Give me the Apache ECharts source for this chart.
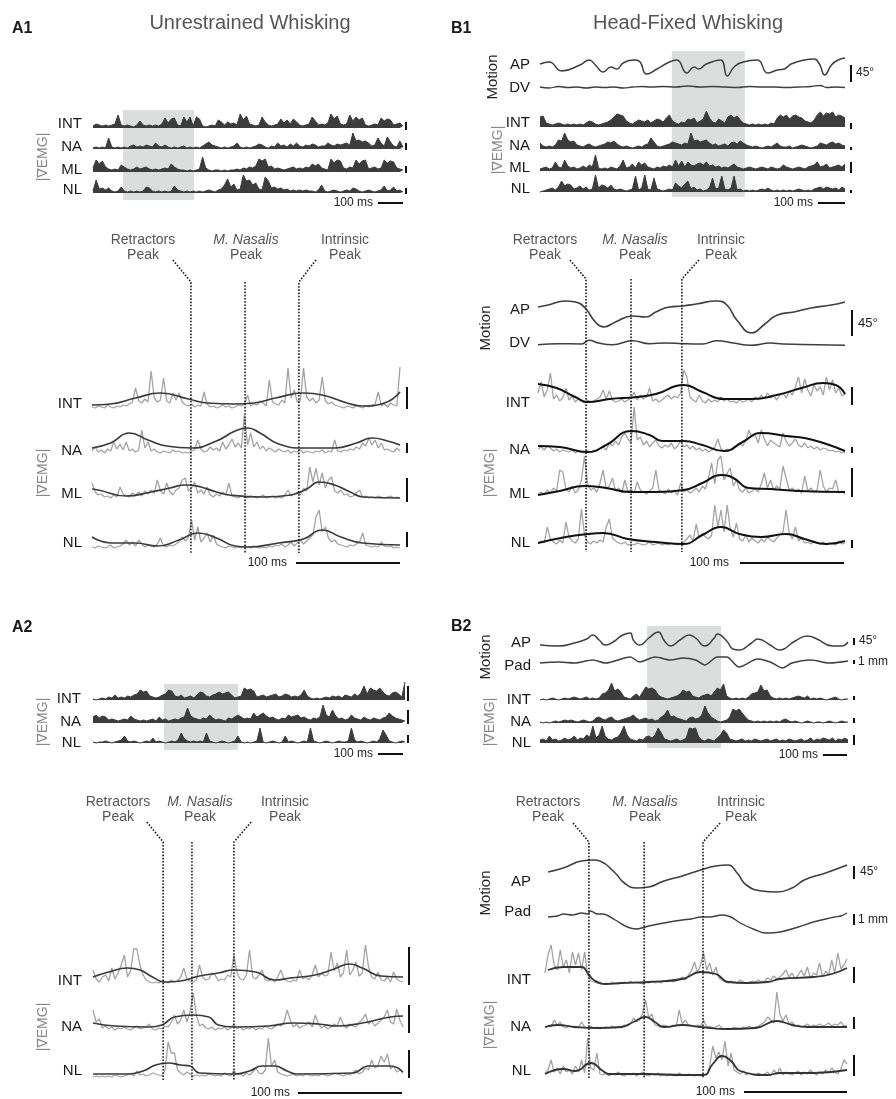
<!DOCTYPE html>
<html><head><meta charset="utf-8">
<script src="https://cdn.jsdelivr.net/npm/echarts@6/dist/echarts.min.js"></script>
<style>html,body{margin:0;padding:0;background:#fff}#c{width:896px;height:1099px}</style>
</head><body><div id="c"></div><script>
// ---------------- DATA (amplitudes, arbitrary units) ----------------
const emg4 = ["INT","NA","ML","NL"];
const emg3 = ["INT","NA","NL"];
const peakNames = [["Retractors","Peak"],["M. Nasalis","Peak"],["Intrinsic","Peak"]];

// A1 overview
const a1ovINT=[2,4,3,2,3,2,3,4,13,3, 2,3,2,1,3,7,3,2,3,2, 3,2,4,10,5,9,10,3,2,11, 6,11,2,11,9,2,1,2,3,2, 8,6,3,6,4,5,3,14,8,12, 4,3,2,3,11,6,3,2,3,4, 9,5,8,4,9,6,3,2,3,4, 11,7,3,4,3,5,14,9,12,4, 3,4,13,7,11,8,10,3,2,3, 4,3,10,7,9,8,3,4,5,2];
const a1ovNA=[1,2,1,2,1,11,2,1,2,1, 2,1,3,4,2,3,2,4,3,2, 6,3,2,4,2,1,2,1,2,3, 1,2,1,2,1,3,5,7,4,3, 2,1,2,1,2,3,6,2,1,2, 1,2,3,5,4,2,1,3,2,6, 3,4,2,5,3,6,3,2,4,3, 5,4,2,3,3,6,4,3,5,4, 5,6,4,16,8,9,7,8,6,3, 4,11,6,3,12,7,3,2,8,2];
const a1ovML=[4,12,8,11,5,3,2,3,2,7, 5,3,2,3,5,3,4,5,3,2, 3,2,3,4,3,8,5,3,2,2, 1,2,1,2,3,15,4,2,1,2, 2,1,2,1,2,2,3,2,4,3, 5,4,6,13,11,13,5,6,3,4, 3,2,3,4,5,3,4,3,5,4, 8,6,8,4,3,2,13,9,12,11, 4,3,5,4,12,8,11,12,3,4, 5,3,4,12,9,11,10,4,3,2];
const a1ovNL=[2,13,4,5,3,5,2,1,2,6, 2,1,2,1,2,1,2,6,5,2, 1,2,1,2,1,2,7,3,2,1, 2,1,2,1,2,1,2,3,2,1, 3,4,8,14,6,9,3,4,18,12, 13,8,10,4,3,16,12,5,6,4, 5,3,4,2,3,2,3,2,3,2, 2,1,3,8,2,1,2,3,2,1, 2,3,2,5,4,2,1,2,3,2, 1,2,3,7,2,3,6,2,3,1];
const a1Shade=[9.6,32.3];

// A1 zoom
const a1zINTraw=[3,2,4,3,2,5,3,2,4,3, 5,4,6,8,22,9,7,11,8,39, 12,8,10,32,9,7,17,10,17,8, 5,4,6,3,5,4,18,6,3,4, 2,3,5,3,4,2,3,5,4,6, 15,4,6,5,9,7,4,30,8,6, 5,10,7,42,12,20,8,10,42,13, 9,12,7,10,33,9,6,8,5,4, 3,2,4,3,2,5,3,2,4,3, 5,6,18,4,6,3,7,5,4,43];
const a1zINTsm=[[0,5],[6,6],[14,12],[22,17],[31,11],[37,7],[46,6],[52,7],[59,12],[68,17],[74,15],[82,7],[87,4],[94,7],[99,18]];
const a1zNAraw=[4,8,3,5,2,6,4,13,6,11, 5,13,4,6,3,5,25,7,13,4, 6,3,2,4,3,2,5,3,4,2, 3,2,4,5,15,6,3,4,8,5, 7,4,13,6,10,16,8,12,7,40, 10,22,8,13,6,9,4,7,5,3, 6,4,3,5,2,4,3,5,2,4, 3,2,4,3,5,2,4,3,15,4, 3,5,4,6,5,8,6,12,9,17, 10,15,7,12,5,6,4,3,7,4];
const a1zNAsm=[[0,7],[6,12],[12,22],[18,15],[24,9],[32,7],[40,14],[46,24],[50,27],[54,22],[60,11],[68,7],[78,7],[85,12],[90,17],[95,14],[99,10]];
const a1zMLraw=[17,8,5,6,3,4,2,5,3,13, 6,4,3,7,5,8,4,9,6,10, 7,20,9,6,17,8,5,10,12,20, 22,9,12,18,7,10,6,13,5,3, 6,4,8,5,17,4,3,2,4,3, 2,4,3,2,3,5,2,3,4,2, 3,2,5,10,4,6,8,5,12,9, 33,18,32,15,27,12,20,23,9,7, 10,5,6,3,4,7,10,3,4,2, 3,2,4,3,2,3,4,2,3,2];
const a1zMLsm=[[0,11],[2,10],[11,4],[19,8],[25,12],[30,15],[35,13],[40,8],[44,5],[55,3],[64,5],[69,11],[73,18],[78,15],[83,8],[87,3],[99,2]];
const a1zNLraw=[3,2,4,3,2,3,5,2,3,4, 6,10,5,8,4,10,6,3,5,4, 3,6,12,4,3,5,4,6,8,13, 9,13,30,10,23,8,12,17,8,15, 6,4,3,2,4,3,2,3,2,4, 3,2,4,3,2,3,2,4,3,5, 4,6,3,5,8,4,7,10,6,9, 12,15,33,40,18,23,12,8,10,6, 5,4,3,5,4,6,8,17,5,4, 3,4,3,8,4,3,4,2,3,2];
const a1zNLsm=[[0,13],[6,7],[14,7],[21,4],[28,10],[34,17],[40,12],[46,4],[50,3],[60,7],[68,11],[74,20],[80,13],[87,7],[99,5]];
const a1Peaks=[31.8,49.2,66.5];
const a1PeakLabelAt=[26.0,49.2,72.0];

// B1 overview
const b1ovAP=[[0,13],[3,15],[7,6],[13,12],[16,17],[18,12],[20.5,5],[23,10],[25,8],[27,14],[31,17],[32.5,15],[34.6,3],[38,8],[42,15],[44.4,17],[47.7,4],[50,10],[51.5,8],[54,13],[58.6,17],[60.8,1],[63,10],[66,15],[70.6,17],[73.9,4],[77,7],[79.3,8],[81.5,13],[85.8,17],[89,18],[90.7,13],[92.4,2],[94.6,12],[96.7,17],[99,19]];
const b1ovDV=[[0,3],[3,2],[6,3.5],[9,2.5],[12,3],[15,2],[18,3],[21,2.5],[24,3],[27,2],[30,3],[33,3.5],[36,3],[40,3.5],[44,3],[48,4],[52,3],[56,3.5],[60,3],[64,2.5],[68,3.5],[72,3],[76,3],[80,2.5],[84,3],[88,3.5],[91,4.5],[93,2.5],[96,3],[99,2.5]];
const b1ovINT=[10,11,4,3,2,3,4,3,2,3, 2,3,2,3,2,4,6,5,3,2, 3,4,5,7,10,13,12,11,6,4, 3,5,7,6,5,7,4,6,8,7, 5,9,12,6,4,3,5,4,8,7, 9,4,6,8,16,9,5,4,8,6, 4,10,12,9,11,7,4,3,2,3, 2,3,2,3,2,4,3,9,12,10, 12,8,11,12,10,9,6,5,4,7, 12,15,11,14,13,15,10,12,11,9];
const b1ovNA=[6,3,2,3,2,4,9,8,16,9, 7,8,4,3,2,4,5,3,2,3, 4,5,7,6,8,5,3,2,3,2, 1,2,3,2,4,5,11,7,3,2, 3,4,5,7,6,5,4,6,5,16, 8,9,7,8,9,6,4,5,3,4, 5,3,6,7,5,8,6,4,3,2, 3,2,1,2,3,2,4,6,3,2, 2,3,1,2,3,4,3,2,1,2, 3,6,5,4,6,7,5,6,4,3];
const b1ovML=[2,3,4,2,3,9,4,3,11,5, 3,4,2,3,5,3,6,4,16,3, 2,3,2,4,3,2,5,11,3,4, 7,3,9,6,8,4,3,2,4,3, 5,4,6,4,11,5,10,4,9,6, 5,7,8,6,9,5,6,4,5,3, 4,3,5,7,4,3,2,3,4,3, 2,3,4,3,2,4,3,2,3,6, 4,3,2,3,4,3,2,4,5,6, 9,4,5,7,3,4,5,6,4,7];
const b1ovNL=[0,1,2,3,4,2,5,11,6,8, 7,3,4,6,3,5,2,3,17,4, 7,6,4,7,3,2,3,2,1,2, 3,16,2,4,17,3,2,14,3,2, 1,2,3,2,9,6,4,8,11,3, 5,2,3,1,2,4,14,3,4,16, 3,2,4,16,2,3,1,2,1,2, 1,2,3,2,4,2,1,2,1,2, 1,2,1,2,3,2,1,2,1,3, 4,5,3,5,4,3,4,2,5,3];
const b1Shade=[42.8,66.5];

// B1 zoom
const b1zAP=[[0,28],[3.3,30],[8.7,34],[12,33],[15.2,27],[18.5,13],[21.2,8],[25,13],[30.4,19],[34.8,18],[38,23],[42.4,28],[46.7,29],[51,31],[57.6,34],[60.9,30],[64.1,15],[69,2],[72.8,10],[77.2,20],[82.6,23],[88,27],[94.6,30],[99,33]];
const b1zDV=[[0,3.3],[6.5,4.3],[14,4],[16.5,7.7],[19.5,5],[24,3.3],[30.5,7.3],[36,4.3],[41,5],[46.7,4.3],[53,4],[57.6,7.3],[63,5],[68.5,2.7],[75,5],[79,4],[90,3.3],[99,2.7]];
const b1zINTraw=[12,23,8,15,32,6,10,4,7,17, 5,9,3,6,4,2,5,3,4,6, 8,15,6,14,5,3,4,6,3,5, 7,13,5,10,6,8,17,4,6,3, 5,8,10,6,9,7,12,35,28,8, 5,3,10,4,2,6,3,5,3,8, 4,6,3,4,2,5,3,4,6,3, 8,5,10,6,12,7,9,5,10,12, 7,14,10,18,28,12,26,15,9,20, 14,18,10,28,15,25,12,17,9,11];
const b1zINTsm=[[0,21],[6,17],[12,8],[16,3],[23,6],[32,8],[38,11],[47,20],[53,13],[60,6],[69,6],[77,10],[85,17],[92,22],[96,20],[99,11]];
const b1zNAraw=[6,8,5,9,7,4,6,3,5,4, 3,5,2,4,3,2,4,3,5,4, 6,8,5,12,9,14,10,18,22,16, 12,48,15,18,10,14,8,12,15,9, 7,10,8,12,6,9,14,8,10,6, 9,5,7,4,6,3,5,8,16,6, 4,6,5,8,10,12,9,14,25,18, 20,12,25,16,9,15,12,10,8,22, 14,9,12,16,10,8,12,7,9,6, 8,5,7,6,4,5,3,4,2,3];
const b1zNAsm=[[0,9],[7,8],[16,3],[22,10],[30,24],[36,20],[40,14],[47,14],[53,10],[60,4],[66,13],[72,22],[80,19],[86,17],[93,11],[99,4]];
const b1zMLraw=[4,6,3,8,5,10,7,28,26,9, 6,12,5,8,18,42,14,8,10,6, 15,28,9,12,20,7,10,5,18,6, 9,5,16,8,6,4,7,10,28,8, 6,4,9,5,7,3,15,6,8,5, 7,10,6,12,9,20,35,14,38,42, 18,25,30,12,18,8,6,10,5,7, 9,6,14,25,10,18,8,12,9,32, 20,8,10,6,9,5,22,7,10,6, 8,28,12,6,10,9,18,5,7,4];
const b1zMLsm=[[0,3],[7,7],[15,12],[22,10],[30,6],[38,6],[47,8],[53,15],[59,23],[63,20],[68,10],[75,9],[84,7],[99,6]];
const b1zNLraw=[3,6,4,20,8,5,3,7,4,25, 10,6,4,8,38,12,5,3,6,4, 7,5,20,28,9,6,4,3,5,2, 3,2,4,3,2,3,5,2,3,4, 2,3,2,4,3,2,3,5,8,12, 6,23,9,14,10,8,12,42,20,37, 15,42,18,10,24,8,6,12,5,9, 6,4,8,5,10,7,5,9,12,15, 37,14,8,20,6,9,4,5,3,6, 4,3,5,2,4,3,2,6,3,4];
const b1zNLsm=[[0,4],[9,10],[16,13],[21,14],[29,8],[38,5],[47,3],[53,12],[59,20],[65,13],[72,10],[80,13],[86,8],[93,3],[99,6]];
const b1Peaks=[15.5,30.0,46.4];
const b1PeakLabelAt=[10.3,30.0,51.9];

// A2 overview
const a2ovINT=[1,0,1,2,1,3,2,5,2,3, 2,4,3,5,6,10,8,9,4,3, 2,3,5,6,10,9,4,3,5,2, 3,4,2,5,8,7,4,3,5,6, 8,6,7,8,5,2,3,4,12,10, 11,9,3,4,5,3,4,5,6,3, 4,6,5,3,4,3,5,10,4,2, 1,2,1,2,3,2,4,3,4,2, 5,4,3,6,4,7,14,6,12,10, 9,12,8,5,4,7,8,6,3,18];
const a2ovNA=[6,8,5,7,6,3,4,3,2,3, 4,3,7,4,3,2,3,2,3,4, 2,6,3,4,2,3,4,3,5,6, 15,7,5,4,3,5,4,8,5,3, 4,3,2,5,4,6,8,6,4,5, 4,10,6,8,10,7,5,6,4,3, 5,4,8,6,7,8,5,6,4,3, 5,4,6,18,8,6,13,7,4,5, 3,4,8,5,4,3,6,4,3,5, 4,3,5,6,10,7,5,4,3,2];
const a2ovNL=[1,0,1,1,2,1,0,1,2,3, 7,2,1,2,1,0,1,2,1,5, 1,2,1,0,1,2,1,3,10,4, 2,1,2,1,2,1,10,2,1,0, 1,2,1,0,1,2,7,1,0,1, 0,1,2,15,1,0,1,2,1,0, 1,7,1,2,1,0,1,2,1,15, 2,1,0,1,2,1,0,1,2,1, 1,2,15,3,1,2,1,0,1,2, 1,4,13,8,2,1,0,1,2,1];
const a2Shade=[22.5,46.0];

// A2 zoom
const a2zINTraw=[15,6,3,8,10,4,17,6,12,20, 30,8,14,36,36,20,10,5,3,2, 3,2,4,3,2,5,3,4,8,17, 6,4,3,5,20,8,5,6,12,10, 4,6,5,10,8,30,12,6,5,10, 35,8,6,10,15,5,4,6,3,8, 15,6,4,3,5,4,15,6,8,5, 10,20,8,12,9,10,33,14,22,8, 12,35,10,15,23,9,12,40,18,8, 6,13,5,4,8,3,13,6,4,3];
const a2zINTsm=[[0,8],[5,13],[11,17],[15,15],[19,8],[23,3],[28,4],[34,9],[40,12],[45,15],[52,13],[58,5],[63,7],[71,10],[77,16],[82,21],[86,17],[92,9],[99,8]];
const a2zNAraw=[22,10,13,4,6,3,5,2,4,3, 5,3,2,4,6,3,4,5,8,3, 2,4,3,6,5,10,17,8,12,22, 10,20,39,17,6,8,4,3,5,2, 4,3,5,2,4,8,3,5,2,4, 3,5,2,4,3,6,4,3,5,8, 6,10,22,12,5,8,4,6,7,10, 5,17,8,4,6,3,5,8,6,15, 7,4,8,6,5,10,12,18,8,11, 6,9,12,15,22,10,8,23,12,5];
const a2zNAsm=[[0,9],[7,6],[18,5],[22,7],[26,15],[32,17],[37,15],[40,7],[45,5],[56,6],[64,9],[72,8],[78,6],[86,9],[95,15],[99,16]];
const a2zNLraw=[1,2,1,2,1,2,1,3,2,1, 2,3,4,2,7,3,4,2,3,5, 4,3,2,8,36,25,25,8,5,3, 6,4,2,3,2,3,2,4,3,2, 3,2,5,3,2,8,3,4,2,5, 3,6,10,5,4,8,40,12,18,6, 4,3,2,3,4,2,3,2,4,3, 2,3,2,4,3,2,3,5,4,3, 2,4,3,5,8,4,6,10,8,18, 10,12,22,16,24,9,12,6,8,5];
const a2zNLsm=[[0,4],[11,4],[16,7],[20,13],[24,15],[28,13],[31,12],[34,5],[45,4],[50,7],[54,12],[58,12],[62,7],[65,4],[83,5],[88,12],[95,12],[99,6]];
const a2Peaks=[22.4,31.6,45.0];
const a2PeakLabelAt=[17.2,31.6,50.5];

// B2 overview
const b2ovAP=[[0,8],[6,7],[11,10],[15,14],[17,18],[19,13],[21,8],[24,12],[26,17],[29,20],[30,13],[32,8],[35,15],[38,21],[40,12],[42,7],[45,13],[48,18],[50,15],[53,7],[56,15],[57,19],[60,12],[62,4],[64,3],[68,10],[70,14],[74,8],[77,3],[82,12],[86,17],[89,14],[94,7],[97,7],[99,11]];
const b2ovPad=[[0,7],[6,8],[11,7],[17,10],[21,7],[29,13],[32,8],[37,13],[42,10],[46,12],[50,10],[53,5],[57,13],[60,13],[64,3],[70,11],[74,8],[78,2],[81,7],[87,10],[93,7],[99,9]];
const b2ovINT=[0,1,0,1,2,1,0,1,2,1, 2,3,2,1,2,3,1,2,1,2, 6,7,10,17,9,11,8,3,2,1, 4,6,3,8,13,11,12,10,5,3, 2,1,2,3,4,6,10,8,9,4, 3,2,4,5,6,4,8,12,10,16, 4,2,1,2,1,2,1,3,6,7, 8,15,9,10,4,2,1,2,1,2, 1,2,3,4,3,2,4,1,2,1, 2,1,0,1,2,3,1,0,1,1];
const b2ovNA=[1,0,1,0,1,2,1,2,3,2, 3,2,1,2,3,2,1,2,5,6, 4,3,5,6,3,2,3,4,5,6, 8,5,3,4,5,3,4,2,3,6, 8,13,6,7,5,4,3,2,5,6, 4,5,8,17,10,6,4,2,1,2, 3,6,14,12,14,10,6,3,2,1, 2,1,2,1,2,1,2,1,3,4, 2,1,2,1,0,1,2,1,0,1, 1,0,1,2,1,0,1,2,1,1];
const b2ovNL=[3,4,2,7,3,4,2,3,5,3, 4,7,3,5,4,8,6,17,5,8, 17,6,4,3,5,6,10,17,8,4, 3,2,4,3,6,7,5,8,15,10, 4,3,2,3,4,2,3,5,15,14, 15,6,3,2,4,3,2,5,8,13, 10,4,3,2,3,4,2,3,2,4, 3,2,3,4,2,3,4,2,3,2, 4,3,2,3,4,2,3,5,2,4, 3,5,4,3,5,2,4,3,5,3];
const b2Shade=[34.4,58.2];

// B2 zoom
const b2zAP=[[1,21],[6,25],[12,32],[16,33],[18,32],[23,20],[26,10],[30,5],[34,6],[39,12],[45,17],[51,23],[56,27],[60,28],[63,20],[66,8],[71,2],[76,1],[81,5],[85,13],[92,20],[99,28]];
const b2zPad=[[1,19],[4,20],[6,22],[9,21],[12,23],[14,22],[15,25],[17,22],[19,22],[23,16],[27,9],[30,7],[34,10],[39,13],[45,16],[48,17],[51,19],[54,19],[58,21],[61,19],[64,13],[69,6],[72,3],[77,4],[83,9],[88,14],[92,17],[95,19],[97,20],[99,23]];
const b2zINTraw=[12,30,40,20,15,35,18,25,12,33, 20,32,15,33,10,4,3,2,3,1, 2,1,3,2,1,2,3,2,4,2, 3,2,1,3,2,4,2,3,2,4, 3,5,3,4,6,8,5,10,14,23, 12,20,32,15,22,10,18,7,5,3, 2,4,3,2,5,3,2,3,4,3, 5,3,4,7,5,9,6,8,11,15, 8,12,6,10,15,9,18,7,12,10, 22,8,14,10,25,12,32,16,20,26];
const b2zINTsm=[[1,15],[6,18],[12,18],[14,12],[16,5],[20,1],[25,2],[34,3],[45,6],[51,13],[56,11],[60,3],[66,2],[73,3],[77,6],[88,8],[94,11],[99,17]];
const b2zNAraw=[2,4,3,10,5,8,3,2,4,3, 2,3,8,3,2,4,2,3,1,2, 3,2,4,2,3,2,5,4,6,12, 8,10,17,30,12,16,5,4,3,5, 4,3,5,4,20,6,10,5,4,3, 5,4,10,3,4,2,3,5,2,1, 2,1,3,2,1,3,2,4,2,3, 4,6,8,13,10,7,38,16,9,15, 6,8,4,5,3,4,6,3,5,4, 6,4,5,7,4,6,5,8,4,5];
const b2zNAsm=[[0,3],[4,5],[10,3],[17,2],[25,3],[29,8],[33,13],[36,8],[39,3],[45,5],[51,3],[60,1],[69,2],[76,9],[81,5],[86,3],[99,3]];
const b2zNLraw=[5,8,18,6,10,4,12,6,8,4, 12,6,18,5,40,10,8,25,4,3, 5,2,4,3,6,3,2,4,3,5, 2,4,6,3,2,4,3,5,2,3, 2,4,3,2,5,3,2,4,3,2, 3,2,4,3,12,32,20,26,18,37, 12,25,8,6,4,7,3,5,4,3, 5,3,4,6,2,8,4,10,3,6, 4,3,5,7,3,6,4,8,5,3, 6,4,8,5,10,6,4,9,18,14];
const b2zNLsm=[[0,4],[6,9],[10,7],[15,15],[19,7],[21,4],[34,4],[45,3],[52,3],[55,14],[58,22],[61,17],[64,7],[73,3],[77,5],[88,5],[99,8]];
const b2Peaks=[14.4,32.5,51.8];
const b2PeakLabelAt=[9.2,32.5,57.4];

// ---------------- BUILD ----------------
const FONT='"Liberation Sans", Arial, "DejaVu Sans", sans-serif';
const grids=[],xAxes=[],yAxes=[],series=[],graphics=[];
const OV='#3c3c3c', RAW='#a3a3a3';
function addGrid(left,width,bottom,height,inverse){
  const i=grids.length;
  grids.push({left:left,top:bottom-height,width:width,height:height,containLabel:false});
  xAxes.push({type:'value',gridIndex:i,min:0,max:99,show:false});
  yAxes.push({type:'value',gridIndex:i,min:0,max:height,show:false,inverse:!!inverse});
  return i;
}
const idx=a=>a.map((v,i)=>[i,v]);
function addLine(g,data,o){
  const s={type:'line',xAxisIndex:g,yAxisIndex:g,data:data,symbol:'none',showSymbol:false,
    smooth:o.smooth||false,clip:false,animation:false,silent:true,z:o.z||3,
    lineStyle:{color:o.color,width:o.width,type:o.type||'solid',opacity:o.lineOpacity==null?1:o.lineOpacity}};
  if(o.area) s.areaStyle={color:o.area,opacity:1,origin:'start'};
  series.push(s);
}
function txt(x,y,text,o){
  o=o||{};
  graphics.push({type:'text',x:x,y:y,rotation:o.rot||0,z:100,silent:true,
    style:{text:text,fill:o.color||'#1a1a1a',
      font:(o.italic?'italic ':'')+(o.bold?'bold ':'')+(o.size||14)+'px '+FONT,
      textAlign:o.align||'center',textVerticalAlign:'middle',align:o.align||'center',verticalAlign:'middle'}});
}
function seg(x1,y1,x2,y2,w,c){
  graphics.push({type:'line',z:100,silent:true,shape:{x1:x1,y1:y1,x2:x2,y2:y2},style:{stroke:c||'#111',lineWidth:w||2}});
}
function shade(left,width,top,bottom,range){
  const h=bottom-top, g=addGrid(left,width,bottom,h);
  addLine(g,[[range[0],h],[range[1],h]],{color:'#dcdddd',width:0,lineOpacity:0,area:'#dcdddd',z:1});
}
function peakLines(left,width,top,knee,bottom,peaks,labelAt){
  const g=addGrid(left,width,bottom,bottom-top,true);
  peaks.forEach((p,k)=>{
    const d=(labelAt[k]===p)?[[p,knee-top],[p,bottom-top]]:[[labelAt[k],0],[p,knee-top],[p,bottom-top]];
    addLine(g,d,{color:'#1a1a1a',width:1.6,type:[1.6,1.6],z:5});
  });
}
function peakText(xs,y){
  xs.forEach((x,k)=>{
    txt(x,y,peakNames[k][0],{size:14,color:'#555',italic:k===1});
    txt(x,y+15,peakNames[k][1],{size:14,color:'#555'});
  });
}
function scaleBar100(tx,ty,x1,x2){ txt(tx,ty,'100 ms',{size:12,color:'#222',align:'right'}); seg(x1,ty,x2,ty,2,'#111'); }
// trace: {g params, label}
function trace(left,width,bottom,height,lines,label,labelX,labelY,barX,bar){
  const g=addGrid(left,width,bottom,height);
  lines.forEach(l=>addLine(g,l.data,l.o));
  txt(labelX,labelY,label,{size:15,align:'right'});
  if(bar) seg(barX,bar[0],barX,bar[1],2,'#111');
}
const ovLine=d=>({data:idx(d),o:{color:OV,width:1,area:OV}});
const rawLine=d=>({data:idx(d),o:{color:RAW,width:1.3}});
const smLine=(d,c,w)=>({data:d,o:{color:c||'#3a3a3a',width:w||1.7,smooth:true,z:4}});
const motLine=(d,w,s)=>({data:d,o:{color:'#3f3f3f',width:w||1.6,smooth:s==null?true:s}});

// ---- Titles & panel letters
txt(250,23,'Unrestrained Whisking',{size:20,color:'#555'});
txt(688,23,'Head-Fixed Whisking',{size:20,color:'#555'});
txt(12,29,'A1',{size:16,bold:true,align:'left'});
txt(451,29,'B1',{size:16,bold:true,align:'left'});
txt(12,628,'A2',{size:16,bold:true,align:'left'});
txt(451,627,'B2',{size:16,bold:true,align:'left'});
const rotL=-Math.PI/2*-1;

// ---- A1 overview
shade(93,310,110,200,a1Shade);
[[a1ovINT,128,124,[122,130]],[a1ovNA,149,147,[143,150]],[a1ovML,172,170,[166,173]],[a1ovNL,193,190,[188,194]]]
 .forEach((t,k)=>trace(93,310,t[1],22,[ovLine(t[0])],emg4[k],82,t[2],406,t[3]));
txt(43,157,'|∇EMG|',{size:14,color:'#888',rot:Math.PI/2});
scaleBar100(373,203,378,403);

// ---- A1 zoom
peakText([143,246,345],240);
peakLines(92,308,260,282,553,a1Peaks,a1PeakLabelAt);
trace(92,308,410,48,[rawLine(a1zINTraw),smLine(a1zINTsm)],'INT',82,404,407,[387,409]);
trace(92,308,455,45,[rawLine(a1zNAraw),smLine(a1zNAsm)],'NA',82,451,407,[443,453]);
trace(92,308,500,40,[rawLine(a1zMLraw),smLine(a1zMLsm)],'ML',82,494,407,[478,502]);
trace(92,308,550,45,[rawLine(a1zNLraw),smLine(a1zNLsm)],'NL',82,543,407,[532,547]);
txt(43,473,'|∇EMG|',{size:14,color:'#888',rot:Math.PI/2});
scaleBar100(287,563,296,400);

// ---- B1 overview
shade(540,305,51,197,b1Shade);
trace(540,305,77,22,[motLine(b1ovAP,1.5)],'AP',530,65,851,[65,82]);
trace(540,305,90,8,[motLine(b1ovDV,1.3)],'DV',530,88);
txt(856,73,'45°',{size:12,align:'left',color:'#222'});
txt(493,77,'Motion',{size:15,rot:Math.PI/2,color:'#222'});
[[b1ovINT,127,123,[123,129]],[b1ovNA,149,146,[147,150]],[b1ovML,171,168,[162,173]],[b1ovNL,192,189,[190,193]]]
 .forEach((t,k)=>trace(540,305,t[1],22,[ovLine(t[0])],emg4[k],530,t[2],851,t[3]));
txt(498,150,'|∇EMG|',{size:14,color:'#888',rot:Math.PI/2});
scaleBar100(813,203,818,845);

// ---- B1 zoom
peakText([545,635,721],240);
peakLines(538,307,260,279,552,b1Peaks,b1PeakLabelAt);
trace(538,307,335,40,[motLine(b1zAP,1.7)],'AP',530,310,852,[310,336]);
trace(538,307,348,12,[motLine(b1zDV,1.5)],'DV',530,343);
txt(858,323,'45°',{size:13,align:'left',color:'#222'});
txt(486,328,'Motion',{size:15,rot:Math.PI/2,color:'#222'});
trace(538,307,405,40,[rawLine(b1zINTraw),smLine(b1zINTsm,'#111',2)],'INT',530,403,852,[387,405]);
trace(538,307,455,50,[rawLine(b1zNAraw),smLine(b1zNAsm,'#111',2)],'NA',530,450,852,[447,453]);
trace(538,307,498,45,[rawLine(b1zMLraw),smLine(b1zMLsm,'#111',2)],'ML',530,494,852,[468,497]);
trace(538,307,547,45,[rawLine(b1zNLraw),smLine(b1zNLsm,'#111',2)],'NL',530,543,852,[540,548]);
txt(490,473,'|∇EMG|',{size:14,color:'#888',rot:Math.PI/2});
scaleBar100(729,563,740,844);

// ---- A2 overview
shade(93,312,684,750,a2Shade);
[[a2ovINT,700,699,[686,701]],[a2ovNA,723,722,[710,724]],[a2ovNL,743,743,[735,743]]]
 .forEach((t,k)=>trace(93,312,t[1],22,[ovLine(t[0])],emg3[k],81,t[2],408,t[3]));
txt(43,722,'|∇EMG|',{size:14,color:'#888',rot:Math.PI/2});
scaleBar100(373,754,378,403);

// ---- A2 zoom
peakText([118,200,285],802);
peakLines(93,310,822,842,1080,a2Peaks,a2PeakLabelAt);
trace(93,310,985,45,[rawLine(a2zINTraw),smLine(a2zINTsm)],'INT',82,981,409,[947,985]);
trace(93,310,1032,45,[rawLine(a2zNAraw),smLine(a2zNAsm)],'NA',82,1027,409,[1005,1033]);
trace(93,310,1078,45,[rawLine(a2zNLraw),smLine(a2zNLsm)],'NL',82,1071,409,[1050,1078]);
txt(43,1027,'|∇EMG|',{size:14,color:'#888',rot:Math.PI/2});
scaleBar100(290,1093,298,402);

// ---- B2 overview
shade(540,308,626,748,b2Shade);
trace(540,308,653,26,[motLine(b2ovAP,1.5)],'AP',531,643,854,[638,645]);
trace(540,308,670,16,[motLine(b2ovPad,1.5,0.3)],'Pad',531,666,854,[660,664]);
txt(859,641,'45°',{size:12,align:'left',color:'#222'});
txt(858,662,'1 mm',{size:12,align:'left',color:'#222'});
txt(486,657,'Motion',{size:15,rot:Math.PI/2,color:'#222'});
[[b2ovINT,700,700,[696,700]],[b2ovNA,723,722,[718,723]],[b2ovNL,743,743,[735,745]]]
 .forEach((t,k)=>trace(540,308,t[1],22,[ovLine(t[0])],emg3[k],531,t[2],854,t[3]));
txt(490,722,'|∇EMG|',{size:14,color:'#888',rot:Math.PI/2});
scaleBar100(818,755,823,847);

// ---- B2 zoom
peakText([548,645,741],802);
peakLines(545,302,823,842,1078,b2Peaks,b2PeakLabelAt);
trace(545,302,893,40,[motLine(b2zAP,1.6)],'AP',531,882,854,[866,879]);
trace(545,302,936,30,[motLine(b2zPad,1.4,0.3)],'Pad',531,912,854,[914,925]);
txt(860,872,'45°',{size:12,align:'left',color:'#222'});
txt(858,920,'1 mm',{size:12,align:'left',color:'#222'});
txt(486,893,'Motion',{size:15,rot:Math.PI/2,color:'#222'});
trace(545,302,985,45,[rawLine(b2zINTraw),smLine(b2zINTsm,'#333',1.8)],'INT',531,980,854,[967,983]);
trace(545,302,1030,45,[rawLine(b2zNAraw),smLine(b2zNAsm,'#333',1.8)],'NA',531,1027,854,[1017,1029]);
trace(545,302,1078,45,[rawLine(b2zNLraw),smLine(b2zNLsm,'#333',1.8)],'NL',531,1071,854,[1055,1076]);
txt(490,1025,'|∇EMG|',{size:14,color:'#888',rot:Math.PI/2});
scaleBar100(735,1092,744,847);

const chart=echarts.init(document.getElementById('c'),null,{renderer:'canvas'});
chart.setOption({animation:false,backgroundColor:'#fff',grid:grids,xAxis:xAxes,yAxis:yAxes,series:series,graphic:graphics});
</script></body></html>
